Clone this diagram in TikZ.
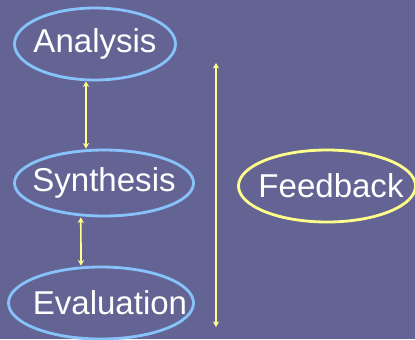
\documentclass[tikz,border=0pt]{standalone}
\usepackage{fontspec}
\setmainfont{Liberation Sans}
\usepackage{tikz}
\usetikzlibrary{shapes.geometric, arrows.meta, positioning}
\definecolor{slidebg}{RGB}{100,100,148}
\definecolor{stageblue}{RGB}{135,195,250}
\definecolor{loopyellow}{RGB}{255,255,140}

\tikzset{
    stage/.style={ellipse, draw=stageblue, line width=2pt, inner sep=0pt,
                  text=white, font=\fontsize{23.5}{26}\selectfont},
    loopnode/.style={stage, draw=loopyellow},
    link/.style={draw=loopyellow, line width=1.2pt,
                 {Stealth[length=4pt,width=4.5pt]}-{Stealth[length=4pt,width=4.5pt]}}
}

\begin{document}
\begin{tikzpicture}
        \fill[slidebg] (0,0) rectangle (10.375,8.475);
        \useasboundingbox (0,0) rectangle (10.375,8.475);

        % the three design stages (zero-width text so the ellipse keeps its size)
        \node[stage, minimum width=4.025cm, minimum height=1.8cm] (ana) at (2.375,7.375) {\makebox[0pt]{Analysis}};
        \node[stage, minimum width=4.475cm, minimum height=1.65cm] (syn) at (2.6,3.9) {\makebox[0pt]{Synthesis}};
        \node[stage, minimum width=4.625cm, minimum height=1.8cm] (eva) at (2.525,0.9) {\makebox[0pt]{\hspace{0.45cm}Evaluation}};
        \node[loopnode, minimum width=4.425cm, minimum height=1.8cm] (fb) at (8.175,3.825) {\makebox[0pt]{\hspace{0.2cm}Feedback}};

        % links between stages
        \draw[link] ([xshift=-0.45cm]syn.north) -- ([xshift=-0.225cm]ana.south);
        \draw[link] ([xshift=-0.58cm]syn.south) -- ([xshift=-0.5cm]eva.north);

        % the long feedback loop
        \coordinate (fbtop) at (5.4,6.9);
        \coordinate (fbbot) at (5.4,0.3);
        \draw[link] (fbbot) -- (fbtop);
    \end{tikzpicture}
\end{document}
